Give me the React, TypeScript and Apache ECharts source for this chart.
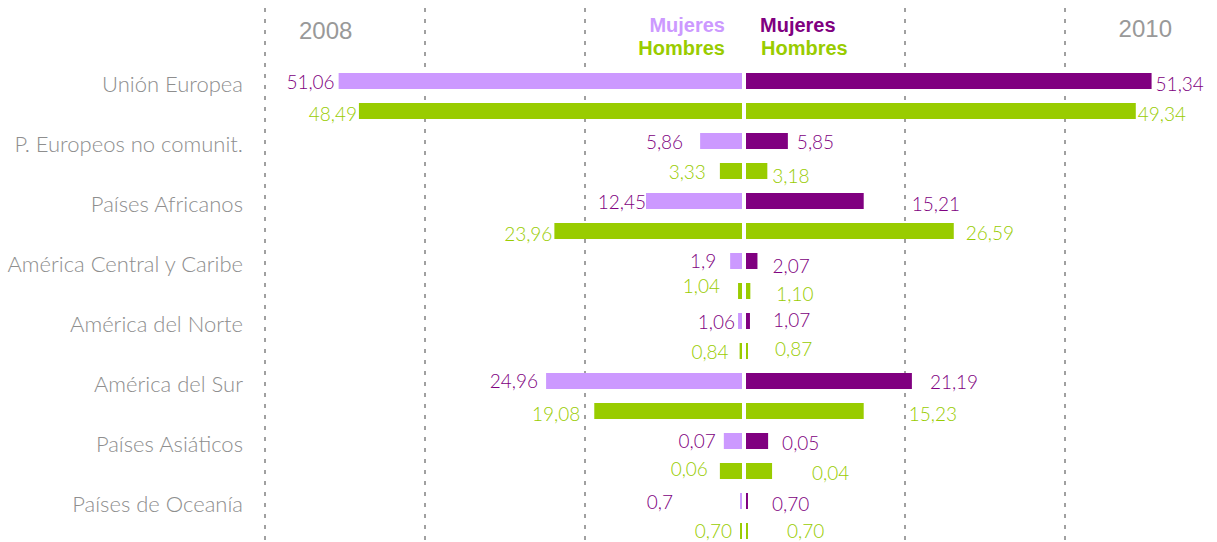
import React, { useEffect, useRef } from 'react';
import * as echarts from 'echarts';

// ---- Data ----
const categories = [
  'Unión Europea',
  'P. Europeos no comunit.',
  'Países Africanos',
  'América Central y Caribe',
  'América del Norte',
  'América del Sur',
  'Países Asiáticos',
  'Países de Oceanía',
];

// Bar lengths (percent)
const mujeres2008 = [51.06, 5.3, 12.15, 1.5, 0.5, 24.8, 2.3, 0.25];
const hombres2008 = [48.49, 2.8, 23.75, 0.5, 0.3, 18.7, 2.8, 0.25];
const mujeres2010 = [51.34, 5.3, 14.9, 1.45, 0.5, 21.0, 2.8, 0.25];
const hombres2010 = [49.34, 2.7, 26.3, 0.55, 0.25, 14.9, 3.3, 0.25];

// Value labels as printed
const mujeres2008Labels = ['51,06', '5,86', '12,45', '1,9', '1,06', '24,96', '0,07', '0,7'];
const hombres2008Labels = ['48,49', '3,33', '23,96', '1,04', '0,84', '19,08', '0,06', '0,70'];
const mujeres2010Labels = ['51,34', '5,85', '15,21', '2,07', '1,07', '21,19', '0,05', '0,70'];
const hombres2010Labels = ['49,34', '3,18', '26,59', '1,10', '0,87', '15,23', '0,04', '0,70'];

const yearLabels = ['2008', '2010'];
const seriesNames = ['Mujeres', 'Hombres'];

// ---- Style ----
const LIGHT_PURPLE = '#cc99ff';
const DARK_PURPLE = '#800080';
const GREEN = '#99cc00';
const GRAY = '#a0a0a0';
const LIGHT = 'Lato, "DejaVu Sans Condensed", sans-serif';
const SANS = '"Liberation Sans", Arial, sans-serif';

// label nudges: [distance from bar end, vertical offset]
const nudgeM08 = [[4, 0], [17, 0], [0, 0], [14, -1], [3, 0], [8, -1], [8, -1], [67, 0]];
const nudgeH08 = [[2, 2], [14, 0], [2, 2], [18, -6], [11, 0], [14, 2], [12, -3], [8, -1]];
const nudgeM10 = [[4, 2], [9, 0], [48, 2], [15, 4], [23, -2], [18, 0], [14, 1], [24, 2]];
const nudgeH10 = [[2, 2], [5, 4], [12, 1], [26, 2], [27, -3], [45, 2], [40, 1], [39, -1]];

function items(values: number[], nudges: number[][]) {
  return values.map((v, i) => ({
    value: v,
    label: { distance: nudges[i][0], offset: [0, nudges[i][1]] },
  }));
}

export default function App() {
  const ref = useRef<HTMLDivElement>(null);

  useEffect(() => {
    document.body.style.margin = '0';
    const chart = echarts.init(ref.current!, null, { renderer: 'svg' });

    const barBase = {
      type: 'bar' as const,
      barWidth: 16,
      barGap: '87.5%',
      animation: false,
    };
    const labelBase = {
      show: true,
      fontFamily: LIGHT,
      fontWeight: 300,
      fontSize: 19,
    };

    const option: any = {
      animation: false,
      backgroundColor: '#ffffff',
      grid: [
        { left: 265, top: 8, width: 960, bottom: 0, outerBoundsMode: 'none', containLabel: false },
        { left: 268, width: 474, top: 66, height: 480, outerBoundsMode: 'none', containLabel: false },
        { left: 746, width: 474, top: 66, height: 480, outerBoundsMode: 'none', containLabel: false },
      ],
      xAxis: [
        {
          gridIndex: 0,
          type: 'value',
          min: 0,
          max: 6,
          interval: 1,
          axisLine: { show: false },
          axisTick: { show: false },
          axisLabel: { show: false },
          splitLine: {
            show: true,
            lineStyle: {
              color: [GRAY, GRAY, GRAY, 'rgba(0,0,0,0)', GRAY, GRAY, GRAY],
              width: 2,
              type: [4, 7],
            },
          },
        },
        { gridIndex: 1, type: 'value', min: 0, max: 60, inverse: true, show: false },
        { gridIndex: 2, type: 'value', min: 0, max: 60, show: false },
      ],
      yAxis: [
        { gridIndex: 0, type: 'value', min: 0, max: 1, show: false },
        {
          gridIndex: 1,
          type: 'category',
          data: categories,
          inverse: true,
          axisLine: { show: false, onZero: false },
          axisTick: { show: false },
          splitLine: { show: false },
          axisLabel: {
            margin: 25,
            color: '#8e8e8e',
            fontFamily: LIGHT,
            fontWeight: 300,
            fontSize: 22,
            lineHeight: 26,
            verticalAlign: 'bottom',
          },
        },
        { gridIndex: 2, type: 'category', data: categories, inverse: true, show: false },
      ],
      series: [
        {
          ...barBase,
          name: seriesNames[0] + ' ' + yearLabels[0],
          xAxisIndex: 1,
          yAxisIndex: 1,
          itemStyle: { color: LIGHT_PURPLE },
          label: { ...labelBase, position: 'left', color: DARK_PURPLE, formatter: (p: any) => mujeres2008Labels[p.dataIndex] },
          data: items(mujeres2008, nudgeM08),
        },
        {
          ...barBase,
          name: seriesNames[1] + ' ' + yearLabels[0],
          xAxisIndex: 1,
          yAxisIndex: 1,
          itemStyle: { color: GREEN },
          label: { ...labelBase, position: 'left', color: GREEN, formatter: (p: any) => hombres2008Labels[p.dataIndex] },
          data: items(hombres2008, nudgeH08),
        },
        {
          ...barBase,
          name: seriesNames[0] + ' ' + yearLabels[1],
          xAxisIndex: 2,
          yAxisIndex: 2,
          itemStyle: { color: DARK_PURPLE },
          label: { ...labelBase, position: 'right', color: DARK_PURPLE, formatter: (p: any) => mujeres2010Labels[p.dataIndex] },
          data: items(mujeres2010, nudgeM10),
        },
        {
          ...barBase,
          name: seriesNames[1] + ' ' + yearLabels[1],
          xAxisIndex: 2,
          yAxisIndex: 2,
          itemStyle: { color: GREEN },
          label: { ...labelBase, position: 'right', color: GREEN, formatter: (p: any) => hombres2010Labels[p.dataIndex] },
          data: items(hombres2010, nudgeH10),
        },
      ],
      graphic: [
        {
          type: 'text', x: 299, y: 30,
          style: { text: yearLabels[0], fill: '#999999', fontFamily: SANS, fontSize: 24, align: 'left', verticalAlign: 'middle' },
        },
        {
          type: 'text', x: 1172, y: 28,
          style: { text: yearLabels[1], fill: '#999999', fontFamily: SANS, fontSize: 24, align: 'right', verticalAlign: 'middle' },
        },
        {
          type: 'text', x: 725, y: 25,
          style: { text: seriesNames[0], fill: LIGHT_PURPLE, fontFamily: SANS, fontWeight: 'bold', fontSize: 20, align: 'right', verticalAlign: 'middle' },
        },
        {
          type: 'text', x: 725, y: 48,
          style: { text: seriesNames[1], fill: GREEN, fontFamily: SANS, fontWeight: 'bold', fontSize: 20, align: 'right', verticalAlign: 'middle' },
        },
        {
          type: 'text', x: 760, y: 25,
          style: { text: seriesNames[0], fill: DARK_PURPLE, fontFamily: SANS, fontWeight: 'bold', fontSize: 20, align: 'left', verticalAlign: 'middle' },
        },
        {
          type: 'text', x: 761, y: 48,
          style: { text: seriesNames[1], fill: GREEN, fontFamily: SANS, fontWeight: 'bold', fontSize: 20, align: 'left', verticalAlign: 'middle' },
        },
      ],
    };

    chart.setOption(option);
    return () => chart.dispose();
  }, []);

  return <div ref={ref} style={{ width: 1217, height: 542 }} />;
}
